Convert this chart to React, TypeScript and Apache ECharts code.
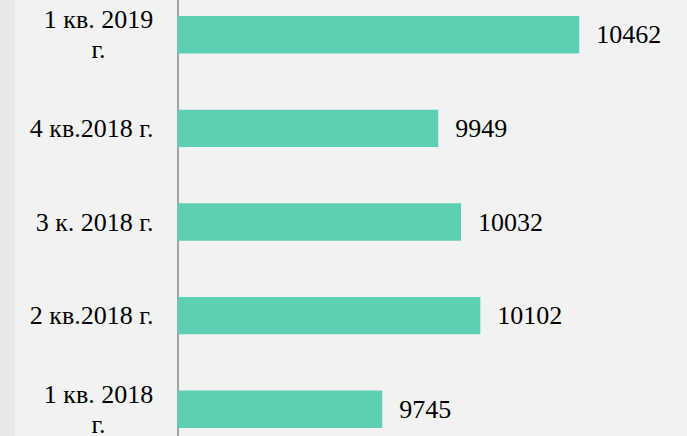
import React, { useEffect, useRef } from "react";
import * as echarts from "echarts";

const categories = [
  "1 кв. 2018 г.",
  "2 кв.2018 г.",
  "3 к. 2018 г.",
  "4 кв.2018 г.",
  "1 кв. 2019 г.",
];
const values = [9745, 10102, 10032, 9949, 10462];
const wrapped: Record<string, string[]> = {
  "1 кв. 2018 г.": ["1 кв. 2018", "г."],
  "1 кв. 2019 г.": ["1 кв. 2019", "г."],
};

const FONT = "'Liberation Serif', 'Times New Roman', 'DejaVu Serif', serif";

export default function App() {
  const ref = useRef<HTMLDivElement>(null);
  useEffect(() => {
    if (!ref.current) return;
    const chart = echarts.init(ref.current, null, { renderer: "svg" });
    chart.setOption({
      animation: false,
      backgroundColor: "#f2f2f2",
      textStyle: { fontFamily: FONT },
      graphic: [
        {
          type: "rect",
          shape: { x: 0, y: 0, width: 15, height: 480 },
          style: { fill: "#e8e8e8" },
          z: -1,
        },
      ],
      grid: { left: 177.5, right: 0, top: 0, bottom: 0, containLabel: false },
      xAxis: {
        type: "value",
        min: 9000,
        max: 10854,
        show: false,
      },
      yAxis: {
        type: "category",
        data: categories,
        axisLine: { show: true, lineStyle: { color: "#8a8a8a", width: 1.5 } },
        axisTick: { show: false },
        splitLine: { show: false },
        axisLabel: {
          margin: 24,
          color: "#000",
          fontSize: 26,
          fontFamily: FONT,
          lineHeight: 30,
          align: "right",
          formatter: (v: string) => {
            const w = wrapped[v];
            if (w) return w.map((s) => `{c|${s}}`).join("\n");
            return v;
          },
          rich: {
            c: {
              width: 110,
              align: "center",
              fontSize: 26,
              lineHeight: 30,
              color: "#000",
              fontFamily: FONT,
            },
          },
        },
      },
      series: [
        {
          type: "bar",
          data: values,
          barWidth: "40%",
          itemStyle: { color: "#5dcfb3" },
          label: {
            show: true,
            position: "right",
            distance: 17,
            color: "#000",
            fontSize: 26,
            fontFamily: FONT,
          },
        },
      ],
    });
    return () => chart.dispose();
  }, []);
  return (
    <div
      ref={ref}
      style={{ position: "fixed", left: 0, top: -12, width: 687, height: 468 }}
    />
  );
}
